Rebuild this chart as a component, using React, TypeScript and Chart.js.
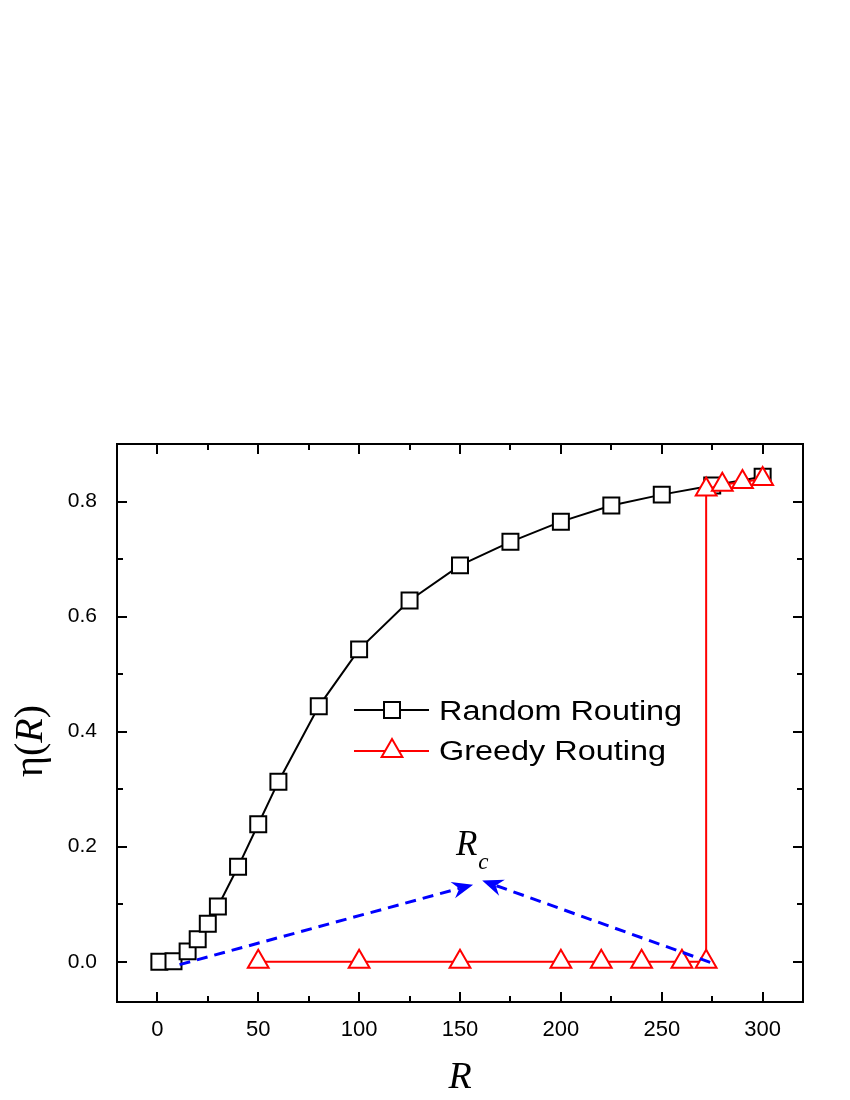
import React, { useEffect, useRef } from "react";
import { Chart, registerables } from "chart.js";

Chart.register(...registerables);

// ---- data ----
const seriesLabels = ["Random Routing", "Greedy Routing"];
const randomR = [1, 8, 15, 20, 25, 30, 40, 50, 60, 80, 100, 125, 150, 175, 200, 225, 250, 275, 300];
const randomEta = [0.0, 0.001, 0.018, 0.039, 0.066, 0.096, 0.165, 0.239, 0.313, 0.444, 0.543, 0.628, 0.689, 0.73, 0.765, 0.793, 0.812, 0.828, 0.843];
const greedyR = [50, 100, 150, 200, 220, 240, 260, 272, 272, 280, 290, 300];
const greedyEta = [0, 0, 0, 0, 0, 0, 0, 0, 0.821, 0.829, 0.834, 0.839];

const xTickValues = [0, 50, 100, 150, 200, 250, 300];
const xMinorTicks = [25, 75, 125, 175, 225, 275];
const yTickValues = [0, 0.2, 0.4, 0.6, 0.8];
const yMinorTicks = [0.1, 0.3, 0.5, 0.7];

// annotation anchors (data coordinates)
const arrowStarts = [
  [11, -0.005],
  [274, -0.001],
];
const arrowEnds = [
  [156.5, 0.134],
  [161, 0.141],
];
const rcLabelAt = [148, 0.186];

const BLACK = "#000000";
const RED = "#ff0000";
const BLUE = "#0000ff";

const decorPlugin = {
  id: "decor",
  afterDatasetsDraw(chart: any) {
    const { ctx, scales } = chart;
    const xs = scales.x;
    const ys = scales.y;
    ctx.save();
    // dashed arrows
    for (let i = 0; i < arrowStarts.length; i++) {
      const x0 = xs.getPixelForValue(arrowStarts[i][0]);
      const y0 = ys.getPixelForValue(arrowStarts[i][1]);
      const x1 = xs.getPixelForValue(arrowEnds[i][0]);
      const y1 = ys.getPixelForValue(arrowEnds[i][1]);
      const ang = Math.atan2(y1 - y0, x1 - x0);
      const c = Math.cos(ang);
      const s = Math.sin(ang);
      const L = 21;
      const W = 8.5;
      const nx = x1 - c * L * 0.68;
      const ny = y1 - s * L * 0.68;
      ctx.strokeStyle = BLUE;
      ctx.fillStyle = BLUE;
      ctx.lineWidth = 3;
      ctx.setLineDash([11, 7]);
      ctx.beginPath();
      ctx.moveTo(x0, y0);
      ctx.lineTo(nx, ny);
      ctx.stroke();
      ctx.setLineDash([]);
      const bx = x1 - c * L;
      const by = y1 - s * L;
      const px = -s;
      const py = c;
      ctx.beginPath();
      ctx.moveTo(x1, y1);
      ctx.lineTo(bx + px * W, by + py * W);
      ctx.lineTo(nx, ny);
      ctx.lineTo(bx - px * W, by - py * W);
      ctx.closePath();
      ctx.fill();
    }
    // R_c label
    const lx = xs.getPixelForValue(rcLabelAt[0]);
    const ly = ys.getPixelForValue(rcLabelAt[1]);
    ctx.fillStyle = BLACK;
    ctx.textBaseline = "alphabetic";
    ctx.textAlign = "left";
    ctx.font = "italic 35px 'Liberation Serif'";
    ctx.fillText("R", lx, ly);
    const rw = ctx.measureText("R").width;
    ctx.font = "italic 23px 'Liberation Serif'";
    ctx.fillText("c", lx + rw + 1, ly + 14);
    ctx.restore();
  },
  afterDraw(chart: any) {
    const { ctx, chartArea: a, scales } = chart;
    const xs = scales.x;
    const ys = scales.y;
    ctx.save();
    ctx.strokeStyle = BLACK;
    ctx.lineWidth = 2;
    // frame
    ctx.strokeRect(a.left, a.top, a.right - a.left, a.bottom - a.top);
    // inward ticks on all four sides
    ctx.beginPath();
    const major = 10;
    const minor = 6;
    const xt = (v: number, len: number) => {
      const p = Math.round(xs.getPixelForValue(v));
      ctx.moveTo(p, a.bottom);
      ctx.lineTo(p, a.bottom - len);
      ctx.moveTo(p, a.top);
      ctx.lineTo(p, a.top + len);
    };
    const yt = (v: number, len: number) => {
      const p = Math.round(ys.getPixelForValue(v));
      ctx.moveTo(a.left, p);
      ctx.lineTo(a.left + len, p);
      ctx.moveTo(a.right, p);
      ctx.lineTo(a.right - len, p);
    };
    xTickValues.forEach((v) => xt(v, major));
    xMinorTicks.forEach((v) => xt(v, minor));
    yTickValues.forEach((v) => yt(v, major));
    yMinorTicks.forEach((v) => yt(v, minor));
    ctx.stroke();

    // axis titles
    ctx.fillStyle = BLACK;
    ctx.textBaseline = "alphabetic";
    ctx.textAlign = "left";
    ctx.font = "italic 38px 'Liberation Serif'";
    const xw = ctx.measureText("R").width;
    ctx.fillText("R", (a.left + a.right) / 2 - xw / 2, 1088);

    // y title: η(R), rotated
    const parts = [
      { t: "\u03B7", f: "40px 'Liberation Serif'" },
      { t: "(", f: "40px 'Liberation Serif'" },
      { t: "R", f: "italic 40px 'Liberation Serif'" },
      { t: ")", f: "40px 'Liberation Serif'" },
    ];
    let total = 0;
    const widths = parts.map((p) => {
      ctx.font = p.f;
      const w = ctx.measureText(p.t).width;
      total += w;
      return w;
    });
    ctx.save();
    ctx.translate(42, 741);
    ctx.rotate(-Math.PI / 2);
    let cx = -total / 2;
    parts.forEach((p, i) => {
      ctx.font = p.f;
      ctx.fillText(p.t, cx, 0);
      cx += widths[i];
    });
    ctx.restore();

    // legend
    const ds = chart.data.datasets;
    const legendRows = [720, 760];
    const lineY = [710, 751];
    for (let i = 0; i < ds.length; i++) {
      const d = ds[i];
      ctx.strokeStyle = d.borderColor;
      ctx.lineWidth = 2;
      ctx.beginPath();
      ctx.moveTo(354, lineY[i]);
      ctx.lineTo(429, lineY[i]);
      ctx.stroke();
      ctx.fillStyle = "#ffffff";
      const mx = 392;
      const my = lineY[i];
      ctx.beginPath();
      if (d.pointStyle === "rect") {
        const h = Math.SQRT1_2 * d.pointRadius;
        ctx.rect(mx - h, my - h, 2 * h, 2 * h);
      } else {
        const r = d.pointRadius;
        ctx.moveTo(mx, my - r);
        ctx.lineTo(mx + r * 0.866, my + r * 0.5);
        ctx.lineTo(mx - r * 0.866, my + r * 0.5);
        ctx.closePath();
      }
      ctx.fill();
      ctx.stroke();
      ctx.fillStyle = BLACK;
      ctx.font = "27px 'Liberation Sans'";
      ctx.save();
      ctx.translate(439, legendRows[i]);
      ctx.scale(1.2, 1);
      ctx.fillText(d.label, 0, 0);
      ctx.restore();
    }
    ctx.restore();
  },
};

export default function App() {
  const ref = useRef<HTMLCanvasElement | null>(null);
  useEffect(() => {
    document.body.style.margin = "0";
    const canvas = ref.current;
    if (!canvas) return;
    const chart = new Chart(canvas, {
      type: "line",
      data: {
        datasets: [
          {
            label: seriesLabels[0],
            data: randomR.map((r, i) => ({ x: r, y: randomEta[i] })),
            borderColor: BLACK,
            borderWidth: 2,
            backgroundColor: "#ffffff",
            pointStyle: "rect",
            pointRadius: 11.3,
            pointBorderWidth: 2,
            pointBackgroundColor: "#ffffff",
            pointBorderColor: BLACK,
            tension: 0,
            order: 2,
          },
          {
            label: seriesLabels[1],
            data: greedyR.map((r, i) => ({ x: r, y: greedyEta[i] })),
            borderColor: RED,
            borderWidth: 2,
            backgroundColor: "#ffffff",
            pointStyle: "triangle",
            pointRadius: 12,
            pointBorderWidth: 2,
            pointBackgroundColor: "#ffffff",
            pointBorderColor: RED,
            tension: 0,
            order: 1,
          },
        ],
      },
      options: {
        animation: false,
        responsive: false,
        devicePixelRatio: 1,
        layout: { padding: { top: 444, right: 47, left: 0, bottom: 0 } },
        plugins: {
          legend: { display: false },
          tooltip: { enabled: false },
        },
        scales: {
          x: {
            type: "linear",
            min: -20,
            max: 320,
            afterBuildTicks: (scale: any) => {
              scale.ticks = xTickValues.map((v) => ({ value: v }));
            },
            afterFit: (scale: any) => {
              scale.height = 98;
            },
            grid: { display: false },
            border: { display: false },
            ticks: {
              color: BLACK,
              padding: 7,
              maxRotation: 0,
              autoSkip: false,
              font: { family: "'Liberation Sans'", size: 22 },
              callback: (v: any) => String(v),
            },
          },
          y: {
            type: "linear",
            min: -0.07,
            max: 0.9,
            afterBuildTicks: (scale: any) => {
              scale.ticks = yTickValues.map((v) => ({ value: v }));
            },
            afterFit: (scale: any) => {
              scale.width = 117;
            },
            grid: { display: false },
            border: { display: false },
            ticks: {
              color: BLACK,
              padding: 12,
              autoSkip: false,
              font: { family: "'Liberation Sans'", size: 21 },
              callback: (v: any) => Number(v).toFixed(1),
            },
          },
        },
      },
      plugins: [decorPlugin],
    } as any);
    return () => chart.destroy();
  }, []);
  return (
    <div style={{ width: 850, height: 1100, background: "#ffffff" }}>
      <canvas ref={ref} width={850} height={1100} style={{ display: "block" }} />
    </div>
  );
}
